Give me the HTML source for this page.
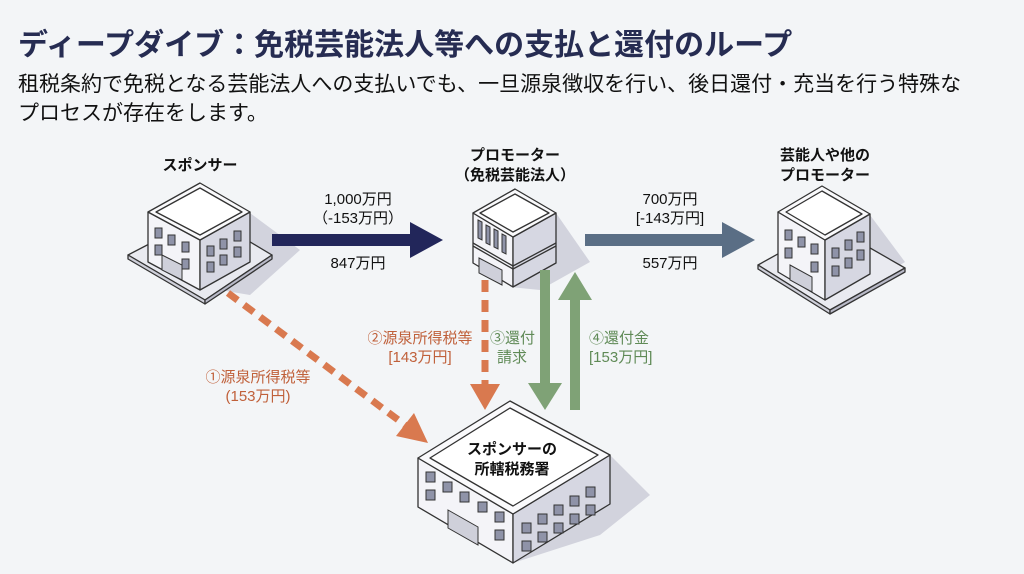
<!DOCTYPE html>
<html><head><meta charset="utf-8"><style>
body{margin:0;width:1024px;height:574px;background:#f3f5f7;overflow:hidden;font-family:"Liberation Sans","Noto Sans CJK JP",sans-serif;}
svg{position:absolute;left:0;top:0}
text{font-family:"Liberation Sans","Noto Sans CJK JP",sans-serif}
</style></head><body>
<svg width="1024" height="574" viewBox="0 0 1024 574">
<text x="18" y="55" font-size="30" font-weight="700" fill="#262c52">ディープダイブ：免税芸能法人等への支払と還付のループ</text>
<text x="18" y="91" font-size="21" fill="#111">租税条約で免税となる芸能法人への支払いでも、一旦源泉徴収を行い、後日還付・充当を行う特殊な</text>
<text x="18" y="120" font-size="21" fill="#111">プロセスが存在をします。</text>

<!-- shadows -->
<polygon points="250,213 300,250 250,295 202,287" fill="#c9cad6" opacity="0.8"/>
<polygon points="556,213 590,262 540,290 510,287" fill="#c9cad6" opacity="0.8"/>
<polygon points="870,215 905,262 860,290 825,300" fill="#c9cad6" opacity="0.8"/>
<polygon points="610,455 650,495 600,535 513,563" fill="#c9cad6" opacity="0.8"/>

<!-- sponsor -->
<g stroke="#333" stroke-width="1.3" stroke-linejoin="round">
<polygon points="128,255 205,215 272,255 205,300" fill="#e9eaf0"/>
<polygon points="128,255 205,300 205,304 128,259" fill="#cfd0da"/>
<polygon points="205,300 272,255 272,259 205,304" fill="#b9bac8"/>
<polygon points="148,212 200,240 200,290 148,262" fill="#f4f4f8"/>
<polygon points="200,240 250,212 250,262 200,290" fill="#d6d7e2"/>
<polygon points="148,212 200,183 250,212 200,240" fill="#fafafc"/>
<polygon points="156,212 200,188 242,212 200,235" fill="#fff"/>
</g>
<g stroke="#333" stroke-width="1" fill="#8f93a8">
<rect x="155" y="228" width="7" height="10"/><rect x="168" y="235" width="7" height="10"/><rect x="182" y="242" width="7" height="10"/>
<rect x="155" y="245" width="7" height="10"/><rect x="182" y="259" width="7" height="10"/>
<rect x="207" y="246" width="7" height="10"/><rect x="220" y="239" width="7" height="10"/><rect x="234" y="231" width="7" height="10"/>
<rect x="207" y="262" width="7" height="10"/><rect x="220" y="255" width="7" height="10"/><rect x="234" y="247" width="7" height="10"/>
<polygon points="162,255 182,265 182,280 162,270" fill="#cfd0da"/>
</g>

<!-- promoter -->
<g stroke="#333" stroke-width="1.3" stroke-linejoin="round">
<polygon points="473,213 513,237 513,287 473,263" fill="#f4f4f8"/>
<polygon points="513,237 556,213 556,263 513,287" fill="#d6d7e2"/>
<polygon points="473,213 515,189 556,213 513,237" fill="#fafafc"/>
<polygon points="480,213 515,194 549,213 513,232" fill="#fff"/>
<polyline points="473,243 513,266 556,243" fill="none"/>
<polyline points="473,246 513,269 556,246" fill="none"/>
</g>
<g stroke="#333" stroke-width="1" fill="#8f93a8">
<polygon points="478,220 482,222 482,240 478,238"/><polygon points="486,225 490,227 490,245 486,243"/>
<polygon points="494,229 498,231 498,249 494,247"/><polygon points="502,234 506,236 506,254 502,252"/>
<polygon points="479,258 502,270 502,285 479,273" fill="#cfd0da"/>
</g>

<!-- performer -->
<g stroke="#333" stroke-width="1.3" stroke-linejoin="round">
<polygon points="758,265 830,225 905,268 830,310" fill="#e9eaf0"/>
<polygon points="758,265 830,310 830,314 758,269" fill="#cfd0da"/>
<polygon points="830,310 905,268 905,272 830,314" fill="#b9bac8"/>
<polygon points="778,212 825,240 825,300 778,272" fill="#f4f4f8"/>
<polygon points="825,240 870,214 870,274 825,300" fill="#d6d7e2"/>
<polygon points="778,212 822,186 870,214 825,240" fill="#fafafc"/>
<polygon points="786,212 822,191 862,214 825,235" fill="#fff"/>
</g>
<g stroke="#333" stroke-width="1" fill="#8f93a8">
<rect x="785" y="230" width="7" height="10"/><rect x="798" y="237" width="7" height="10"/><rect x="811" y="244" width="7" height="10"/>
<rect x="785" y="248" width="7" height="10"/><rect x="811" y="262" width="7" height="10"/>
<rect x="832" y="248" width="7" height="10"/><rect x="845" y="240" width="7" height="10"/><rect x="857" y="232" width="7" height="10"/>
<rect x="832" y="266" width="7" height="10"/><rect x="845" y="258" width="7" height="10"/><rect x="857" y="250" width="7" height="10"/>
<polygon points="790,265 812,277 812,292 790,280" fill="#cfd0da"/>
</g>

<!-- tax office -->
<g stroke="#333" stroke-width="1.3" stroke-linejoin="round">
<polygon points="418,458 513,514 513,563 418,507" fill="#f4f4f8"/>
<polygon points="513,514 610,455 610,504 513,563" fill="#d6d7e2"/>
<polygon points="418,458 510,401 610,455 513,514" fill="#fafafc"/>
<polygon points="430,458 510,408 598,455 513,506" fill="#fff"/>
</g>
<g stroke="#333" stroke-width="1" fill="#8f93a8">
<rect x="426" y="472" width="9" height="10"/><rect x="443" y="482" width="9" height="10"/><rect x="460" y="492" width="9" height="10"/><rect x="478" y="502" width="9" height="10"/><rect x="495" y="512" width="9" height="10"/>
<rect x="426" y="490" width="9" height="10"/><rect x="495" y="530" width="9" height="10"/>
<rect x="522" y="523" width="9" height="10"/><rect x="538" y="514" width="9" height="10"/><rect x="554" y="505" width="9" height="10"/><rect x="570" y="496" width="9" height="10"/><rect x="586" y="487" width="9" height="10"/>
<rect x="522" y="541" width="9" height="10"/><rect x="538" y="532" width="9" height="10"/><rect x="554" y="523" width="9" height="10"/><rect x="570" y="514" width="9" height="10"/><rect x="586" y="505" width="9" height="10"/>
<polygon points="448,510 478,527 478,545 448,528" fill="#cfd0da"/>
</g>

<!-- arrows -->
<polygon points="272,234 410,234 410,222 443,240 410,258 410,246 272,246" fill="#22265a"/>
<polygon points="585,234 722,234 722,222 755,240 722,258 722,246 585,246" fill="#5a6e85"/>
<line x1="228" y1="293" x2="405" y2="425" stroke="#d9794f" stroke-width="7" stroke-dasharray="12,8"/>
<polygon points="428,443 396,436 414,413" fill="#d9794f"/>
<line x1="485" y1="280" x2="485" y2="385" stroke="#d9794f" stroke-width="7" stroke-dasharray="12,8"/>
<polygon points="470,384 500,384 485,410" fill="#d9794f"/>
<rect x="540" y="270" width="10" height="115" fill="#7fa276"/>
<polygon points="528,383 562,383 545,410" fill="#7fa276"/>
<rect x="570" y="298" width="10" height="112" fill="#7fa276"/>
<polygon points="558,300 592,300 575,272" fill="#7fa276"/>

<!-- labels -->
<g font-weight="700" fill="#111" text-anchor="middle" font-size="15">
<text x="200" y="170">スポンサー</text>
<text x="515" y="160">プロモーター</text>
<text x="515" y="180">（免税芸能法人）</text>
<text x="825" y="160">芸能人や他の</text>
<text x="825" y="180">プロモーター</text>
<text x="512" y="454">スポンサーの</text>
<text x="512" y="474">所轄税務署</text>
</g>
<g fill="#111" text-anchor="middle" font-size="15">
<text x="358" y="204">1,000万円</text>
<text x="358" y="223">（-153万円）</text>
<text x="358" y="268">847万円</text>
<text x="670" y="204">700万円</text>
<text x="670" y="223">[-143万円]</text>
<text x="670" y="268">557万円</text>
</g>
<g fill="#c0603a" font-size="15" text-anchor="middle">
<text x="258" y="382">①源泉所得税等</text>
<text x="258" y="401">(153万円)</text>
<text x="420" y="343">②源泉所得税等</text>
<text x="420" y="362">[143万円]</text>
</g>
<g fill="#5f8a56" font-size="15">
<text x="490" y="343">③還付</text>
<text x="497" y="362">請求</text>
<text x="589" y="343">④還付金</text>
<text x="589" y="362">[153万円]</text>
</g>
</svg>
</body></html>
